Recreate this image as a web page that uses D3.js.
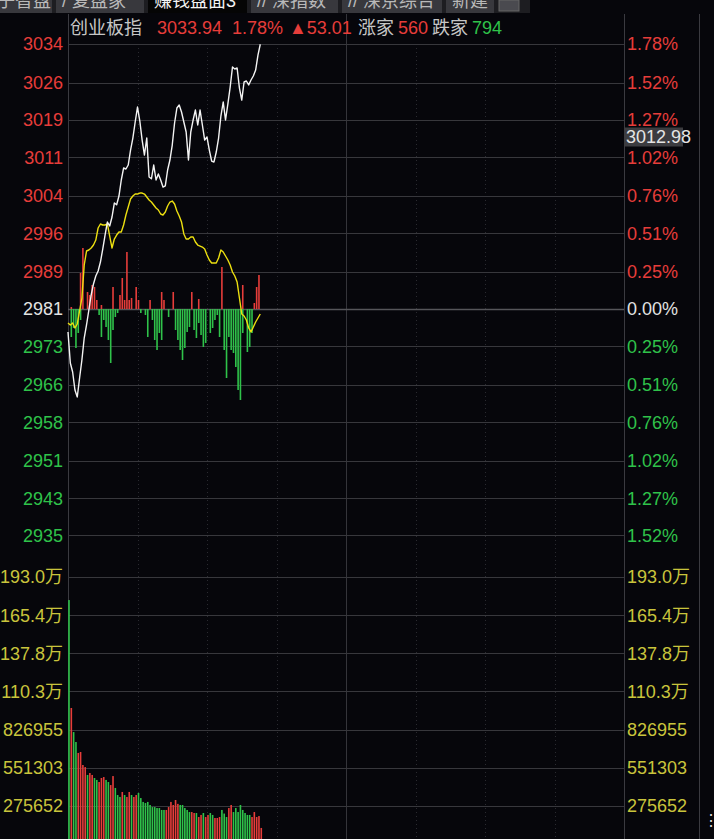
<!DOCTYPE html>
<html><head><meta charset="utf-8">
<script src="https://cdn.jsdelivr.net/npm/d3@7"></script>
<style>
html,body{margin:0;padding:0;background:#06060b;}
svg{display:block;}
text{font-family:"Liberation Sans","Noto Sans CJK SC",sans-serif;}
</style></head><body>
<svg id="chart" width="714" height="839"></svg>
<script>
// ---------- DATA ----------
const indexName = "创业板指";
const lastPrice = 3033.94;
const changePct = 1.78;
const changeAmt = 53.01;
const upCount = 560;
const downCount = 794;
const crossLabel = "3012.98";
const tabLabels = ["子智盘", "/ 复盘家", "赚钱盘面3", "// 深指数", "// 深京综合", "新建"];

const pctTicks = [1.78, 1.52, 1.27, 1.02, 0.76, 0.51, 0.25, 0, -0.25, -0.51, -0.76, -1.02, -1.27, -1.52];
const pctTickLabels = ["1.78%","1.52%","1.27%","1.02%","0.76%","0.51%","0.25%","0.00%","0.25%","0.51%","0.76%","1.02%","1.27%","1.52%"];
const priceTickLabels = ["3034","3026","3019","3011","3004","2996","2989","2981","2973","2966","2958","2951","2943","2935"];

const volTicks = [275652, 551303, 826955, 1102607, 1378259, 1653911, 1929564];
const volTickLabels = ["275652","551303","826955","110.3万","137.8万","165.4万","193.0万"];

// minute price (white line)
const price = [
 2976.33,2970.12,2968.32,2964.71,2963.31,2967.12,2970.72,2975.12,2977.73,2980.73,
 2983.73,2985.94,2987.54,2988.54,2990.34,2992.94,2995.74,2998.35,2997.55,2999.35,
 3002.15,3001.80,3003.55,3006.76,3009.16,3008.96,3009.76,3012.76,3015.16,3018.37,
 3021.37,3018.57,3014.76,3011.76,3015.16,3007.36,3007.00,3009.76,3006.76,3007.96,
 3006.76,3005.35,3005.60,3008.76,3010.76,3013.76,3018.17,3021.17,3021.77,3020.37,
 3018.37,3016.37,3010.76,3016.37,3018.77,3020.77,3017.77,3020.77,3017.77,3014.76,
 3015.36,3012.76,3010.56,3010.36,3012.36,3015.16,3019.57,3022.37,3018.77,3021.97,
 3025.37,3029.38,3029.00,3029.18,3025.17,3022.77,3026.38,3026.58,3025.80,3026.78,
 3027.58,3028.78,3031.78,3033.94];

// yellow line
const avgLine = [
 2978.13,2977.73,2978.13,2977.13,2977.93,2980.53,2983.13,2989.74,2992.54,2992.74,
 2993.14,2993.74,2994.74,2997.15,2997.95,2997.75,2997.75,2997.95,2995.54,2993.14,
 2994.94,2995.74,2996.35,2996.35,2997.75,2999.75,3001.35,3002.95,3003.55,3003.95,
 3003.95,3004.15,3004.15,3003.95,3003.35,3002.75,3002.35,3001.75,3001.15,3000.75,
 2999.95,2999.75,3000.35,3001.55,3002.35,3002.55,3001.95,3000.55,2999.55,2998.35,
 2995.95,2994.94,2994.94,2995.34,2995.34,2994.34,2993.74,2993.54,2993.34,2992.94,
 2991.74,2990.74,2990.14,2990.14,2990.14,2991.14,2992.74,2992.34,2991.54,2990.74,
 2989.74,2988.34,2987.54,2986.34,2983.13,2979.93,2979.53,2978.73,2977.13,2976.33,
 2977.33,2978.33,2979.13,2979.93];

// red (up) and green (down) strength bars around the zero line
const flowUp = [
 0,2,0,0,0,36,61,0,17,14, 24,22,9,0,4,0,0,0,0,22,
 0,0,14,31,9,57,9,11,0,22, 9,0,0,0,0,9,0,0,0,0,
 17,9,0,0,0,17,0,0,0,0, 0,0,0,17,0,0,10,0,0,0,
 0,0,0,0,0,0,42,0,0,0, 0,0,0,0,0,24,0,0,0,0,
 6,22,34,0];
const flowDown = [
 0,28,19,39,24,11,0,0,0,0, 0,0,0,6,28,11,18,31,54,21,
 8,4,0,0,0,0,0,0,0,0, 0,4,0,6,28,0,11,31,41,24,
 31,0,0,8,0,0,21,31,41,51, 39,23,18,0,21,29,14,26,38,34,
 0,24,19,11,6,28,0,41,69,28, 41,44,58,81,91,24,0,43,38,24,
 0,0,0,0];

// volume (万)
const volume = [
 176.3,98.3,80.9,73.7,65.8,66.5,57.1,55.6,49.9,51.3,
 49.9,47.7,46.3,44.8,47.7,48.4,46.3,44.8,42.6,49.1,
 40.5,35.4,34.0,37.6,35.4,34.0,37.6,35.4,34.0,35.4,
 36.9,33.2,30.4,29.6,30.4,28.2,26.7,26.7,26.0,26.0,
 24.6,24.6,24.6,26.7,30.4,28.2,31.8,29.0,28.2,28.2,
 26.0,24.6,23.1,23.1,22.4,22.4,19.5,21.0,22.4,19.5,
 21.0,22.4,21.0,18.8,18.8,19.5,24.6,22.0,19.5,26.0,
 28.2,23.1,26.0,23.1,28.2,24.6,22.4,21.0,21.0,19.5,
 23.1,19.5,20.2,11.6];
const volDir = ("dudduuuudu" + "udduuudduu" + "d" +
  "dduduuduud" + "dddddddddd" + "duuuuu" + "u" +
  "ddddduuduu" + "duudduuud" + "d" +
  "duuddddddd" + "duuuu" + "u").split("");

// ---------- STYLE ----------
const RED = "#e63d3a", GREEN = "#2fc24a", WHITE = "#e2e2e2", YEL = "#c9c43c";
const GRID = "#37373c";

const prevClose = lastPrice - changeAmt;
const svg = d3.select("#chart");
const W = 714, H = 839;
const L = 68, R = 624, RB = 699;
const priceTop = 44, priceBot = 574;
const volTop = 577, volBot = 844;

svg.append("rect").attr("width", W).attr("height", H).attr("fill", "#06060b");

const x = d3.scaleLinear().domain([0, 240]).range([L, R]);
const yPct = d3.scaleLinear().domain([-changePct, changePct]).range([priceBot, priceTop]);
const yPrice = d3.scaleLinear().domain([prevClose * (1 - changePct / 100), prevClose * (1 + changePct / 100)]).range([priceBot, priceTop]);
const yFlow = d3.scaleLinear().domain([-265, 265]).range([priceBot, priceTop]);
const yVol = d3.scaleLinear().domain([0, 1929564]).range([volBot, volTop]);

// ---------- TAB BAR ----------
const tabs = svg.append("g");
tabs.append("rect").attr("x", 0).attr("y", 0).attr("width", 530).attr("height", 13).attr("fill", "#1d1d21");
const tabSpans = [[0, 52], [56, 144], [148, 247], [251, 338], [342, 442], [446, 494]];
tabSpans.forEach((s, i) => {
  tabs.append("rect").attr("x", s[0]).attr("y", 0).attr("width", s[1] - s[0]).attr("height", 13)
    .attr("fill", i === 2 ? "#050505" : "#38383d");
  tabs.append("text").attr("x", i === 0 ? -3 : s[0] + 6).attr("y", 7)
    .attr("font-size", 18).attr("fill", i === 2 ? "#f2f2f2" : "#b9b9b9").text(tabLabels[i]);
});
tabs.append("rect").attr("x", 499).attr("y", 0).attr("width", 20).attr("height", 11)
  .attr("fill", "#4a4a4f").attr("stroke", "#666").attr("stroke-width", 1);

// ---------- GRID ----------
const grid = svg.append("g");
d3.range(0, 9).forEach(k => {
  const t = k * 30;
  const xx = Math.round(x(t)) + 0.5;
  if (k === 0 || k === 8) return;
  if (k === 4) {
    grid.append("line").attr("x1", xx).attr("x2", xx).attr("y1", 14).attr("y2", H)
      .attr("stroke", "#34343a").attr("stroke-width", 1);
  } else {
    grid.append("line").attr("x1", xx).attr("x2", xx).attr("y1", priceTop).attr("y2", H)
      .attr("stroke", "#2a2a30").attr("stroke-width", 1).attr("stroke-dasharray", "1,3");
  }
});
[L, R, RB].forEach(v => {
  grid.append("line").attr("x1", v + 0.5).attr("x2", v + 0.5).attr("y1", 14).attr("y2", H)
    .attr("stroke", "#3a3a40").attr("stroke-width", 1);
});
pctTicks.forEach(p => {
  const yy = Math.round(yPct(p)) + 0.5;
  grid.append("line").attr("x1", L).attr("x2", R).attr("y1", yy).attr("y2", yy)
    .attr("stroke", p === 0 ? "#55555a" : GRID).attr("stroke-width", p === 0 ? 1.5 : 1);
});
volTicks.forEach(v => {
  const yy = Math.round(yVol(v)) + 0.5;
  grid.append("line").attr("x1", L).attr("x2", R).attr("y1", yy).attr("y2", yy)
    .attr("stroke", GRID).attr("stroke-width", 1);
});

// ---------- AXIS LABELS ----------
const labels = svg.append("g").attr("font-size", 18);
pctTicks.forEach((p, i) => {
  const col = p > 0 ? RED : (p < 0 ? GREEN : WHITE);
  const yy = yPct(p);
  labels.append("text").attr("x", 63).attr("y", yy).attr("dy", "0.36em").attr("text-anchor", "end")
    .attr("fill", col).text(priceTickLabels[i]);
  labels.append("text").attr("x", 627).attr("y", yy).attr("dy", "0.36em")
    .attr("fill", col).text(pctTickLabels[i]);
});
volTicks.forEach((v, i) => {
  const yy = yVol(v);
  labels.append("text").attr("x", 63).attr("y", yy).attr("dy", "0.36em").attr("text-anchor", "end")
    .attr("fill", YEL).text(volTickLabels[i]);
  labels.append("text").attr("x", 627).attr("y", yy).attr("dy", "0.36em")
    .attr("fill", YEL).text(volTickLabels[i]);
});

// ---------- FLOW BARS ----------
const bw = 1.6;
const flow = svg.append("g");
flowUp.forEach((v, i) => {
  if (!v) return;
  flow.append("rect").attr("x", x(i) + 1 - bw / 2).attr("width", bw)
    .attr("y", yFlow(v)).attr("height", yFlow(0) - yFlow(v)).attr("fill", RED);
});
flowDown.forEach((v, i) => {
  if (!v) return;
  flow.append("rect").attr("x", x(i) + 1 - bw / 2).attr("width", bw)
    .attr("y", yFlow(0)).attr("height", yFlow(-v) - yFlow(0)).attr("fill", GREEN);
});

// ---------- VOLUME BARS ----------
const vol = svg.append("g");
volume.forEach((v, i) => {
  const val = v * 10000;
  vol.append("rect").attr("x", x(i) + 1 - bw / 2).attr("width", bw)
    .attr("y", yVol(val)).attr("height", yVol(0) - yVol(val))
    .attr("fill", volDir[i] === "u" ? RED : GREEN);
});

// ---------- LINES ----------
const line = d3.line().x((d, i) => x(i)).y(d => yPrice(d));
svg.append("path").datum(avgLine).attr("d", line).attr("fill", "none")
  .attr("stroke", "#ecdf10").attr("stroke-width", 1.4).attr("stroke-linejoin", "round");
svg.append("path").datum(price).attr("d", line).attr("fill", "none")
  .attr("stroke", "#f4f4f4").attr("stroke-width", 1.4).attr("stroke-linejoin", "round");

// ---------- HEADER ----------
const hdr = svg.append("g").attr("font-size", 18);
const hy = 34;
hdr.append("text").attr("x", 70).attr("y", hy).attr("fill", "#c6c6c6").text(indexName);
hdr.append("text").attr("x", 157).attr("y", hy).attr("fill", RED).text(lastPrice.toFixed(2));
hdr.append("text").attr("x", 232).attr("y", hy).attr("fill", RED).text(changePct.toFixed(2) + "%");
hdr.append("text").attr("x", 289).attr("y", hy).attr("fill", RED).text("▲" + changeAmt.toFixed(2));
hdr.append("text").attr("x", 358).attr("y", hy).attr("fill", "#c6c6c6").text("涨家");
hdr.append("text").attr("x", 398).attr("y", hy).attr("fill", RED).text(upCount);
hdr.append("text").attr("x", 432).attr("y", hy).attr("fill", "#c6c6c6").text("跌家");
hdr.append("text").attr("x", 472).attr("y", hy).attr("fill", GREEN).text(downCount);

// ---------- CROSSHAIR LABEL ----------
const cy = 137;
svg.append("rect").attr("x", 624).attr("y", cy - 9.5).attr("width", 59).attr("height", 19).attr("fill", "#3c3c40");
svg.append("text").attr("x", 626).attr("y", cy).attr("dy", "0.36em").attr("font-size", 18)
  .attr("fill", "#e4e4e4").text(crossLabel);

svg.append("text").attr("x", 703).attr("y", 826).attr("font-size", 16).attr("fill", "#dddddd").text("⋮");
</script>
</body></html>
